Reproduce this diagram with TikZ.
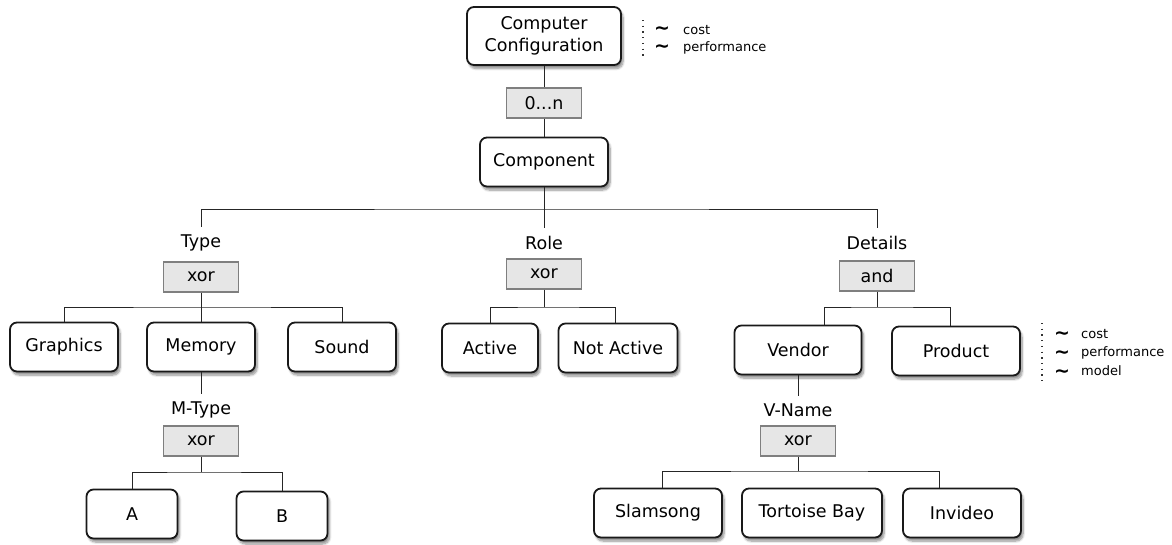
\documentclass[tikz,border=0pt]{standalone}
\usepackage{fontspec}
\setmainfont{DejaVu Sans}
\usetikzlibrary{shadows.blur}
\definecolor{grpfill}{HTML}{E6E6E6}
\definecolor{grpline}{HTML}{7F7F7F}
\tikzstyle{feat}=[rectangle, rounded corners=7pt, draw=black!90, line width=1.8pt,
                  fill=white, minimum width=108pt, minimum height=49pt, align=center,
                  font=\fontsize{17.5}{21.5}\selectfont,
                  % soft shadow below right
                  blur shadow={shadow xshift=2pt, shadow yshift=-3.5pt, shadow blur steps=8, shadow opacity=45}]
\tikzstyle{grpbox}=[rectangle, draw=grpline, line width=1.2pt, fill=grpfill,
                    minimum width=75pt, minimum height=30pt, font=\fontsize{17.5}{21}\selectfont]
\tikzstyle{grplabel}=[inner sep=1pt, outer sep=7pt, font=\fontsize{17.5}{21}\selectfont]
\tikzstyle{link}=[draw=black!85, line width=1pt]
\tikzstyle{attr}=[anchor=base west, inner sep=0pt, font=\fontsize{13}{15}\selectfont]
\tikzstyle{tilde}=[inner sep=0pt, anchor=base, font=\bfseries\fontsize{19}{19}\selectfont]
\tikzstyle{dotline}=[line width=1.3pt, dash pattern=on 1.3pt off 4.4pt, black!80]

\begin{document}
\begin{tikzpicture}[x=1pt, y=-1pt]
  \useasboundingbox (0,0) rectangle (1172,544);

  % Root, cardinality and component
  \node[feat, minimum width=154pt, minimum height=58pt] (cc) at (544,36) {Computer\\Configuration};
  \node[grpbox] (card) at (544,103) {0...n};
  \node[feat, minimum width=128pt] (comp) at (544,162) {Component};

  % Group labels and their operators
  \node[grplabel] (typeL) at (201,243) {Type};
  \node[grplabel] (roleL) at (544,243) {Role};
  \node[grplabel] (detL) at (877,243) {Details};
  \node[grpbox] (typeX) at (201,277) {xor};
  \node[grpbox] (roleX) at (544,274) {xor};
  \node[grpbox] (detX) at (877,276) {and};

  % First level features
  \node[feat] (gfx) at (64,347) {Graphics};
  \node[feat] (mem) at (201,347) {Memory};
  \node[feat] (snd) at (342,347) {Sound};
  \node[feat, minimum width=96pt] (act) at (490,348) {Active};
  \node[feat, minimum width=119pt] (nact) at (618,348) {Not Active};
  \node[feat, minimum width=127pt] (vend) at (798,350) {Vendor};
  \node[feat, minimum width=128pt] (prod) at (956,351) {Product};

  % Second level
  \node[grplabel] (mtL) at (201,410) {M-Type};
  \node[grpbox] (mtX) at (201,441) {xor};
  \node[feat, minimum width=91pt] (fa) at (132,514) {A};
  \node[feat, minimum width=91pt] (fb) at (282,516) {B};
  \node[grplabel] (vnL) at (798,410) {V-Name};
  \node[grpbox] (vnX) at (798,441) {xor};
  \node[feat, minimum width=128pt] (slam) at (658,513) {Slamsong};
  \node[feat, minimum width=140pt] (tort) at (812,513) {Tortoise Bay};
  \node[feat, minimum width=118pt] (invid) at (962,513) {Invideo};

  % Junction points
  \coordinate (bus) at (544,209);
  \coordinate (typeJ) at (201,307);
  \coordinate (roleJ) at (544,307);
  \coordinate (detJ) at (877,307);
  \coordinate (mtJ) at (201,472);
  \coordinate (vnJ) at (798,471);

\path[link] (cc) -- (card);
\path[link] (card) -- (comp);
\path[link] (comp) -- (roleL);
\path[link] (typeL) |- (bus) -| (detL);

\path[link] (typeX) -- (mem);
\path[link] (gfx) |- (typeJ) -| (snd);
\path[link] (roleX) -- (roleJ);
\path[link] (act) |- (roleJ) -| ([xshift=-3pt]nact.north);
\path[link] (detX) -- (detJ);
\path[link] ([xshift=26pt]vend.north) |- (detJ) -| ([xshift=-6pt]prod.north);

\path[link] (mem) -- (mtL);
\path[link] (mtX) -- (mtJ);
\path[link] (fa) |- (mtJ) -| (fb);
\path[link] (vend) -- (vnL);
\path[link] (vnX) -- (vnJ);
\path[link] ([xshift=4pt]slam.north) |- (vnJ) -| ([xshift=-23pt]invid.north);

  % Attributes of the root
  \coordinate (ccDotA) at (643,20);
  \coordinate (ccDotB) at (643,58);
  \draw[dotline] (ccDotA) -- (ccDotB);
  \node[tilde] (ccT1) at (662,34) {∼};
  \node[tilde] (ccT2) at (662,52) {∼};
  \node[attr] (ccCost) at (683,34.5) {cost};
  \node[attr] (ccPerf) at (683,51.7) {performance};

  % Attributes of the product
  \coordinate (prDotA) at (1042,323);
  \coordinate (prDotB) at (1042,381);
  \draw[dotline] (prDotA) -- (prDotB);
  \node[tilde] (prT1) at (1062,339) {∼};
  \node[tilde] (prT2) at (1062,358) {∼};
  \node[tilde] (prT3) at (1062,377) {∼};
  \node[attr] (prCost) at (1081,338) {cost};
  \node[attr] (prPerf) at (1081,356.7) {performance};
  \node[attr] (prModel) at (1081,375) {model};
  % \path[link] (prod) -- (prT2);
\end{tikzpicture}
\end{document}
